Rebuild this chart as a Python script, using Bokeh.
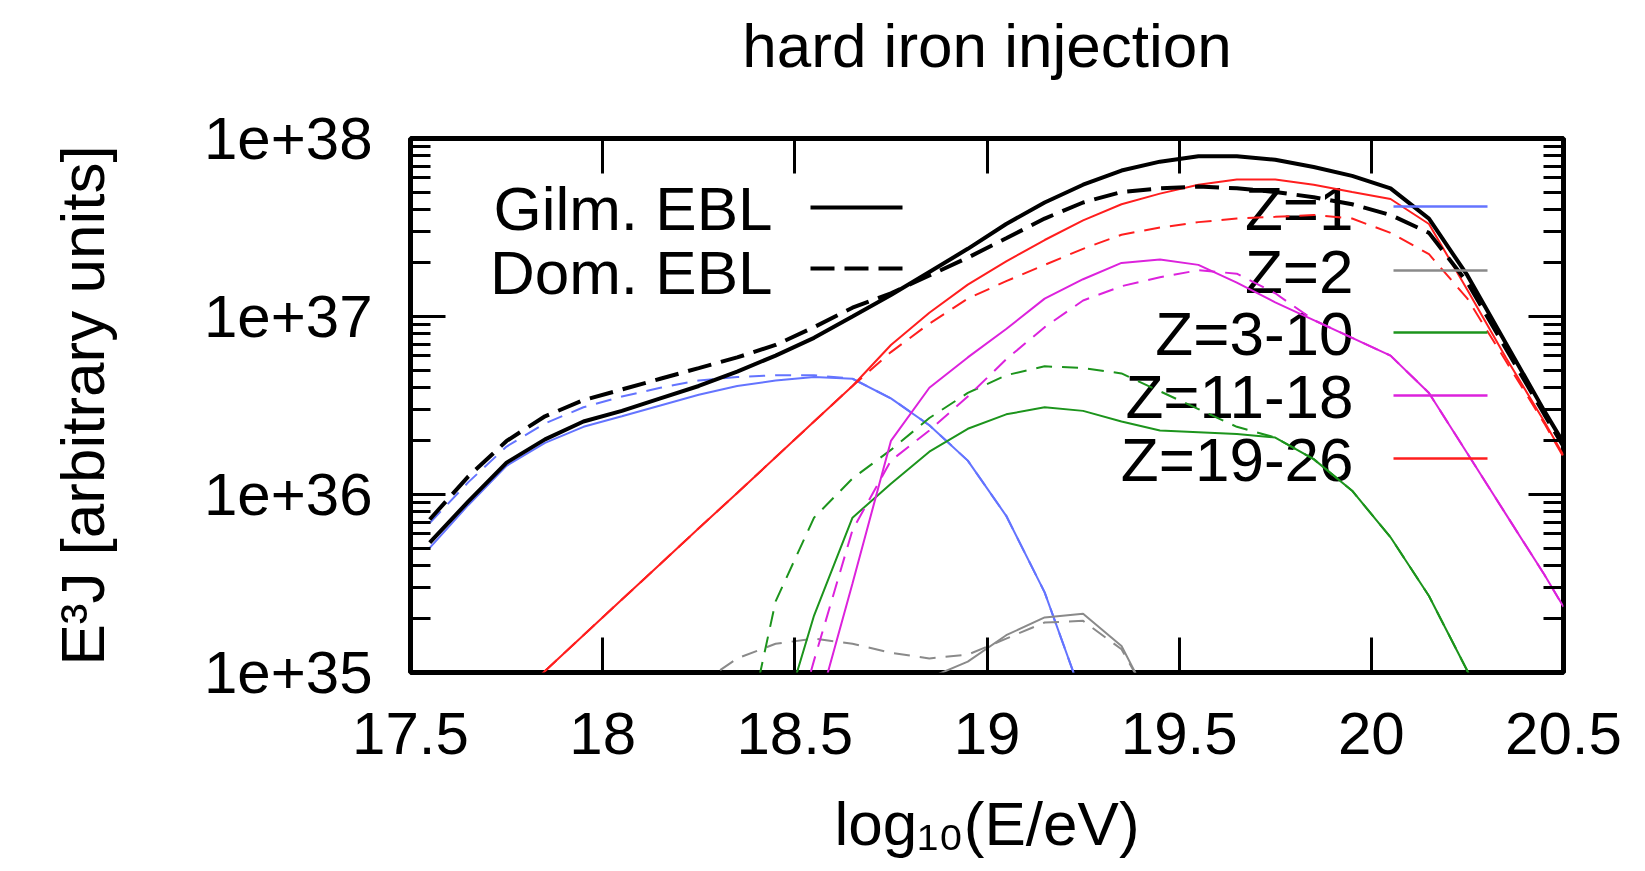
import math
from bokeh.plotting import figure
from bokeh.models import Range1d, FixedTicker, CustomJSTickFormatter, Label, LinearAxis, LogAxis
from bokeh.embed import file_html
from bokeh.resources import INLINE

# ---------------- texts ----------------
title_text = "hard iron injection"
x_label = "log\u2081\u2080(E/eV)"
y_label = "E\u00b3J [arbitrary units]"
xticks = [17.5, 18.0, 18.5, 19.0, 19.5, 20.0, 20.5]
xtick_labels = ["17.5", "18", "18.5", "19", "19.5", "20", "20.5"]
yticks = [1e35, 1e36, 1e37, 1e38]
ytick_labels = ["1e+35", "1e+36", "1e+37", "1e+38"]
ebl_labels = ["Gilm. EBL", "Dom. EBL"]
z_labels = ["Z=1", "Z=2", "Z=3-10", "Z=11-18", "Z=19-26"]

# ---------------- data (E^3 J, arbitrary units) ----------------
x_tot = [17.55, 17.65, 17.75, 17.85, 17.95, 18.05, 18.15, 18.25, 18.35, 18.45,
         18.55, 18.65, 18.75, 18.85, 18.95, 19.05, 19.15, 19.25, 19.35, 19.45,
         19.55, 19.65, 19.75, 19.85, 19.95, 20.05, 20.15, 20.25, 20.35, 20.45, 20.5]
gilm_total = [5.37e35, 9.12e35, 1.51e36, 2.04e36, 2.57e36, 2.95e36, 3.47e36, 4.07e36, 4.90e36, 6.03e36,
              7.59e36, 1.00e37, 1.32e37, 1.78e37, 2.40e37, 3.31e37, 4.37e37, 5.50e37, 6.61e37, 7.41e37,
              7.94e37, 7.94e37, 7.59e37, 6.92e37, 6.17e37, 5.25e37, 3.55e37, 1.70e37, 7.08e36, 2.95e36, 1.95e36]
dom_total = [7.24e35, 1.26e36, 2.00e36, 2.75e36, 3.39e36, 3.89e36, 4.47e36, 5.13e36, 5.89e36, 6.92e36,
             8.71e36, 1.12e37, 1.35e37, 1.70e37, 2.14e37, 2.75e37, 3.55e37, 4.37e37, 5.01e37, 5.25e37,
             5.37e37, 5.25e37, 5.01e37, 4.68e37, 4.27e37, 3.72e37, 2.95e37, 1.55e37, 6.61e36, 2.82e36, 1.86e36]

x_z1 = [17.55, 17.65, 17.75, 17.85, 17.95, 18.05, 18.15, 18.25, 18.35, 18.45,
        18.55, 18.65, 18.75, 18.85, 18.95, 19.05, 19.15, 19.25]
gilm_z1 = [5.01e35, 8.71e35, 1.45e36, 1.95e36, 2.40e36, 2.75e36, 3.16e36, 3.63e36, 4.07e36, 4.37e36,
           4.57e36, 4.47e36, 3.47e36, 2.45e36, 1.55e36, 7.59e35, 2.82e35, 7.08e34]
dom_z1 = [6.92e35, 1.17e36, 1.86e36, 2.51e36, 3.09e36, 3.55e36, 3.98e36, 4.37e36, 4.57e36, 4.68e36,
          4.68e36, 4.47e36, 3.47e36, 2.45e36, 1.55e36, 7.59e35, 2.82e35, 7.08e34]

x_z2_gilm = [18.85, 18.95, 19.05, 19.15, 19.25, 19.35, 19.45]
gilm_z2 = [9.33e34, 1.15e35, 1.62e35, 2.04e35, 2.14e35, 1.41e35, 5.37e34]
x_z2_dom = [18.25, 18.35, 18.45, 18.55, 18.65, 18.75, 18.85, 18.95, 19.05, 19.15, 19.25, 19.35, 19.45]
dom_z2 = [8.51e34, 1.20e35, 1.45e35, 1.55e35, 1.45e35, 1.29e35, 1.20e35, 1.26e35, 1.55e35, 1.91e35,
          1.95e35, 1.35e35, 5.62e34]

x_z3_gilm = [18.45, 18.55, 18.65, 18.75, 18.85, 18.95, 19.05, 19.15, 19.25, 19.35,
             19.45, 19.55, 19.65, 19.75, 19.85, 19.95, 20.05, 20.15, 20.25, 20.35]
gilm_z3_10 = [3.98e34, 2.09e35, 7.41e35, 1.15e36, 1.74e36, 2.34e36, 2.82e36, 3.09e36, 2.95e36, 2.57e36,
              2.29e36, 2.24e36, 2.19e36, 2.09e36, 1.58e36, 1.05e36, 5.75e35, 2.69e35, 1.02e35, 3.98e34]
x_z3_dom = [18.35, 18.45, 18.55, 18.65, 18.75, 18.85, 18.95, 19.05, 19.15, 19.25, 19.35,
            19.45, 19.55, 19.65, 19.75, 19.85, 19.95, 20.05, 20.15, 20.25, 20.35]
dom_z3_10 = [2.51e34, 2.51e35, 7.41e35, 1.23e36, 1.78e36, 2.69e36, 3.72e36, 4.68e36, 5.25e36, 5.13e36, 4.79e36,
             3.80e36, 3.02e36, 2.40e36, 2.09e36, 1.58e36, 1.05e36, 5.75e35, 2.69e35, 1.02e35, 3.98e34]

x_z11_gilm = [18.55, 18.65, 18.75, 18.85, 18.95, 19.05, 19.15, 19.25, 19.35, 19.45,
              19.55, 19.65, 19.75, 19.85, 19.95, 20.05, 20.15, 20.25, 20.35, 20.45, 20.5]
gilm_z11_18 = [5.25e34, 3.16e35, 2.00e36, 3.98e36, 5.89e36, 8.51e36, 1.26e37, 1.62e37, 2.00e37, 2.09e37,
               1.95e37, 1.55e37, 1.20e37, 9.55e36, 7.59e36, 6.03e36, 3.72e36, 1.70e36, 7.76e35, 3.55e35, 2.34e35]
x_z11_dom = [18.45, 18.55, 18.65, 18.75, 18.85, 18.95, 19.05, 19.15, 19.25, 19.35, 19.45,
             19.55, 19.65, 19.75, 19.85, 19.95, 20.05, 20.15, 20.25, 20.35, 20.45, 20.5]
dom_z11_18 = [2.00e34, 1.17e35, 6.31e35, 1.55e36, 2.29e36, 3.55e36, 5.75e36, 8.71e36, 1.23e37, 1.48e37, 1.66e37,
              1.82e37, 1.74e37, 1.35e37, 9.55e36, 7.59e36, 6.03e36, 3.72e36, 1.70e36, 7.76e35, 3.55e35, 2.34e35]

x_z19 = [17.75, 17.85, 17.95, 18.05, 18.15, 18.25, 18.35, 18.45, 18.55, 18.65,
         18.75, 18.85, 18.95, 19.05, 19.15, 19.25, 19.35, 19.45, 19.55, 19.65,
         19.75, 19.85, 19.95, 20.05, 20.15, 20.25, 20.35, 20.45, 20.5]
gilm_z19_26 = [6.46e34, 1.02e35, 1.62e35, 2.57e35, 4.07e35, 6.46e35, 1.02e36, 1.62e36, 2.57e36, 4.07e36,
               6.92e36, 1.05e37, 1.51e37, 2.04e37, 2.69e37, 3.47e37, 4.27e37, 4.90e37, 5.50e37, 5.89e37,
               5.89e37, 5.50e37, 5.01e37, 4.57e37, 3.31e37, 1.41e37, 5.89e36, 2.57e36, 1.66e36]
dom_z19_26 = [6.46e34, 1.02e35, 1.62e35, 2.57e35, 4.07e35, 6.46e35, 1.02e36, 1.62e36, 2.57e36, 4.07e36,
              6.31e36, 9.12e36, 1.26e37, 1.58e37, 1.95e37, 2.40e37, 2.88e37, 3.16e37, 3.39e37, 3.55e37,
              3.63e37, 3.72e37, 3.55e37, 2.95e37, 2.24e37, 1.26e37, 5.62e36, 2.51e36, 1.62e36]

# ---------------- styles ----------------
FONT = "Liberation Sans"
C_BLUE = "#6474ff"
C_GRAY = "#8a8a8a"
C_GREEN = "#1c941c"
C_MAG = "#dc22dc"
C_RED = "#ff1e1e"
z_colors = [C_BLUE, C_GRAY, C_GREEN, C_MAG, C_RED]
DASH_BLACK = "24 10"
DASH_COL = "16 10"
TS = "62px"

W, H = 1645, 871
FL, FR, FT, FB = 410, 1563, 138, 672   # frame edges in pixels

p = figure(width=W, height=H, output_backend="svg", toolbar_location=None,
           x_range=Range1d(17.5, 20.5), y_range=Range1d(1e35, 1e38), y_axis_type="log",
           min_border_left=FL, min_border_right=W - FR, min_border_top=FT, min_border_bottom=H - FB)
p.title.visible = False
p.grid.visible = False
p.outline_line_color = "black"
p.outline_line_width = 5
p.background_fill_color = "white"
p.border_fill_color = "white"


def px_x(X):
    return 17.5 + (X - FL) * 3.0 / (FR - FL)


def px_y(Y):
    return 10.0 ** (38 - (Y - FT) * 3.0 / (FB - FT))


minor_y = [float(k) * 10.0 ** d for d in (35, 36, 37) for k in range(2, 10)]

xfmt = CustomJSTickFormatter(args=dict(tv=xticks, tl=xtick_labels), code="""
let best = 0;
for (let i = 0; i < tv.length; i++) {
  if (Math.abs(tv[i] - tick) < Math.abs(tv[best] - tick)) best = i;
}
return tl[best];
""")
yfmt = CustomJSTickFormatter(args=dict(tv=yticks, tl=ytick_labels), code="""
let best = 0;
const lt = Math.log10(tick);
for (let i = 0; i < tv.length; i++) {
  if (Math.abs(Math.log10(tv[i]) - lt) < Math.abs(Math.log10(tv[best]) - lt)) best = i;
}
return tl[best];
""")
blank = CustomJSTickFormatter(code="return '';")


def style_axis(ax, standoff):
    ax.axis_line_color = None
    ax.major_tick_in = 35
    ax.major_tick_out = 0
    ax.minor_tick_in = 20
    ax.minor_tick_out = 0
    ax.major_tick_line_width = 3
    ax.minor_tick_line_width = 3
    ax.major_tick_line_color = "black"
    ax.minor_tick_line_color = "black"
    ax.major_label_text_font = FONT
    ax.major_label_text_font_size = "60px"
    ax.major_label_text_color = "black"
    ax.major_label_standoff = standoff
    ax.axis_label_text_font = FONT
    ax.axis_label_text_font_size = TS
    ax.axis_label_text_font_style = "normal"
    ax.axis_label_text_color = "black"


xb = p.xaxis[0]
xb.ticker = FixedTicker(ticks=xticks, minor_ticks=[])
xb.formatter = xfmt
style_axis(xb, 40)
xb.axis_label = x_label
xb.axis_label_standoff = 32

yl = p.yaxis[0]
yl.ticker = FixedTicker(ticks=yticks, minor_ticks=minor_y)
yl.formatter = yfmt
style_axis(yl, 38)
yl.axis_label = y_label
yl.axis_label_standoff = 84

# top axis carries the chart title as its label
xt = LinearAxis(ticker=FixedTicker(ticks=xticks, minor_ticks=[]), formatter=blank)
style_axis(xt, 0)
xt.major_label_text_font_size = "1px"
xt.axis_label = title_text
xt.axis_label_standoff = 59
p.add_layout(xt, "above")

yr = LogAxis(ticker=FixedTicker(ticks=yticks, minor_ticks=minor_y), formatter=blank)
style_axis(yr, 0)
yr.major_label_text_font_size = "1px"
p.add_layout(yr, "right")

# ---------------- curves ----------------
LW = 2
p.line(x_z1, dom_z1, line_color=C_BLUE, line_width=LW, line_dash=DASH_COL)
p.line(x_z1, gilm_z1, line_color=C_BLUE, line_width=LW)
p.line(x_z2_dom, dom_z2, line_color=C_GRAY, line_width=LW, line_dash=DASH_COL)
p.line(x_z2_gilm, gilm_z2, line_color=C_GRAY, line_width=LW)
p.line(x_z3_dom, dom_z3_10, line_color=C_GREEN, line_width=LW, line_dash=DASH_COL)
p.line(x_z3_gilm, gilm_z3_10, line_color=C_GREEN, line_width=LW)
p.line(x_z11_dom, dom_z11_18, line_color=C_MAG, line_width=LW, line_dash=DASH_COL)
p.line(x_z11_gilm, gilm_z11_18, line_color=C_MAG, line_width=LW)
p.line(x_z19, dom_z19_26, line_color=C_RED, line_width=LW, line_dash=DASH_COL)
p.line(x_z19, gilm_z19_26, line_color=C_RED, line_width=LW)
p.line(x_tot, dom_total, line_color="black", line_width=4, line_dash=DASH_BLACK)
p.line(x_tot, gilm_total, line_color="black", line_width=4)

# ---------------- legends (label left, sample right) ----------------
ebl_line_y = [207, 268]
ebl_base_y = [208, 272]
ebl_dash = [None, DASH_BLACK]
for lab, ly, by, dsh in zip(ebl_labels, ebl_line_y, ebl_base_y, ebl_dash):
    p.add_layout(Label(x=px_x(772), y=px_y(by), text=lab, text_align="right",
                       text_baseline="alphabetic", text_font=FONT, text_font_size=TS,
                       text_color="black", level="underlay"))
    kw = dict(line_color="black", line_width=4)
    if dsh:
        kw["line_dash"] = dsh
    p.segment(x0=[px_x(810)], y0=[px_y(ly)], x1=[px_x(902)], y1=[px_y(ly)], **kw)

z_line_y = [206, 270, 332, 395, 458]
z_base_y = [208, 271, 333, 396, 459]
for lab, col, ly, by in zip(z_labels, z_colors, z_line_y, z_base_y):
    p.add_layout(Label(x=px_x(1353), y=px_y(by), text=lab, text_align="right",
                       text_baseline="alphabetic", text_font=FONT, text_font_size=TS,
                       text_color="black", level="underlay"))
    p.segment(x0=[px_x(1393)], y0=[px_y(ly)], x1=[px_x(1487)], y1=[px_y(ly)],
              line_color=col, line_width=2.5)

open("out.html", "w").write(file_html(p, INLINE))
